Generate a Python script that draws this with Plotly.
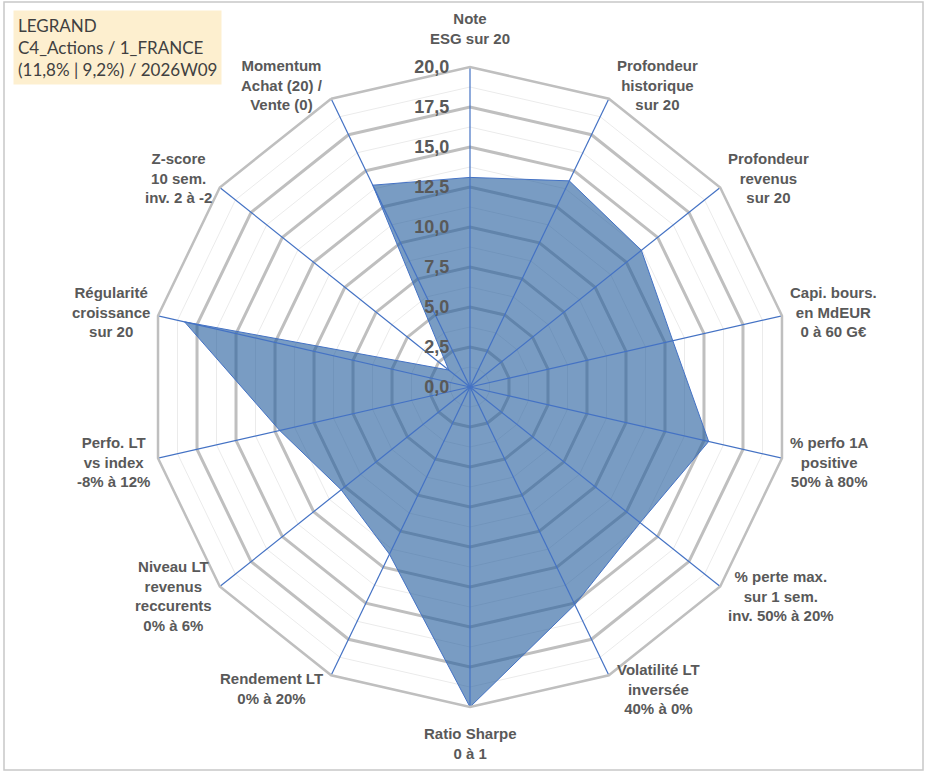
import math
import plotly.graph_objects as go

# axes of the radar, clockwise from the top
categories = [
    'Note<br>ESG sur 20',
    'Profondeur<br>historique<br>sur 20',
    'Profondeur<br>revenus<br>sur 20',
    'Capi. bours.<br>en MdEUR<br>0 à 60 G€',
    '% perfo 1A<br>positive<br>50% à 80%',
    '% perte max.<br>sur 1 sem.<br>inv. 50% à 20%',
    'Volatilité LT<br>inversée<br>40% à 0%',
    'Ratio Sharpe<br>0 à 1',
    'Rendement LT<br>0% à 20%',
    'Niveau LT<br>revenus<br>reccurents<br>0% à 6%',
    'Perfo. LT<br>vs index<br>-8% à 12%',
    'Régularité<br>croissance<br>sur 20',
    'Z-score<br>10 sem.<br>inv. 2 à -2',
    'Momentum<br>Achat (20) /<br>Vente (0)',
]
scores = [13.1, 14.3, 13.7, 13.0, 15.3, 13.6, 15.1, 20.0, 11.6, 10.3, 12.2, 18.3, 1.7, 14.0]

major_ticks = [0, 2.5, 5, 7.5, 10, 12.5, 15, 17.5, 20]
minor_rings = [1.25, 3.75, 6.25, 8.75, 11.25, 13.75, 16.25, 18.75]
r_max = 20

title_lines = ['LEGRAND', 'C4_Actions / 1_FRANCE', '(11,8% | 9,2%) / 2026W09']

W, H = 933, 776
cx, cy, R = 470, 387, 320  # radar centre and outer radius, px

label_font = dict(family='Liberation Sans, Arial', size=15, color='#595959', weight='bold')

fig = go.Figure()

# faint intermediate rings
for ring in minor_rings:
    fig.add_trace(go.Scatterpolar(r=[ring] * (len(categories) + 1), theta=categories + categories[:1],
                                  mode='lines', line=dict(color='#EBEBEB', width=1),
                                  hoverinfo='skip', showlegend=False))

fig.add_trace(go.Scatterpolar(r=scores + scores[:1], theta=categories + categories[:1],
                              mode='lines', fill='toself', fillcolor='rgba(38,96,158,0.62)',
                              line=dict(color='#4472C4', width=1), name='LEGRAND', showlegend=False))

# spokes drawn above the filled area
for cat in categories:
    fig.add_trace(go.Scatterpolar(r=[0, r_max], theta=[cat, cat], mode='lines',
                                  line=dict(color='#4472C4', width=1.2),
                                  hoverinfo='skip', showlegend=False))

fig.update_layout(
    width=W, height=H,
    margin=dict(l=0, r=0, t=0, b=0),
    paper_bgcolor='white', plot_bgcolor='white',
    separators=', ',
    polar=dict(
        domain=dict(x=[(cx - R) / W, (cx + R) / W], y=[1 - (cy + R) / H, 1 - (cy - R) / H]),
        bgcolor='white',
        gridshape='linear',
        angularaxis=dict(direction='clockwise', rotation=90, type='category',
                         categoryarray=categories, showgrid=False, showticklabels=False,
                         showline=True, linecolor='#BFBFBF', linewidth=2.5, ticks=''),
        radialaxis=dict(range=[0, r_max], tickvals=major_ticks, tickformat='.1f',
                        angle=90, tickangle=90, side='counterclockwise', showline=False,
                        gridcolor='#BFBFBF', gridwidth=2.5,
                        ticks='outside', ticklen=14, tickcolor='rgba(0,0,0,0)',
                        layer='above traces',
                        tickfont=dict(family='Liberation Sans, Arial', size=18, color='#595959',
                                      weight='bold')),
    ),
    font=dict(family='Liberation Sans, Arial'),
)

# axis labels around the outer ring
n = len(categories)
for i, label in enumerate(categories):
    a = math.radians(360 * i / n)
    s, c = math.sin(a), math.cos(a)
    vx, vy = cx + R * s, cy - R * c
    if abs(s) < 0.1:
        x, xanchor = vx, 'center'
        y, yanchor = (vy - 18, 'bottom') if c > 0 else (vy + 16, 'top')
    else:
        x, xanchor = (vx + 6, 'left') if s > 0 else (vx - 6, 'right')
        y, yanchor = vy - 15 * c, 'middle'
    fig.add_annotation(xref='paper', yref='paper', x=x / W, y=1 - y / H, xanchor=xanchor, yanchor=yanchor,
                       text=label, showarrow=False, align='center', font=label_font)

fig.add_annotation(xref='paper', yref='paper', x=13 / W, y=1 - 10 / H, xanchor='left', yanchor='top',
                   text='<br>'.join(title_lines), showarrow=False, align='left',
                   bgcolor='#FDEFCF', borderpad=4,
                   font=dict(family='Lato, Open Sans', size=17, color='#404040'))

fig.add_shape(type='rect', xref='paper', yref='paper', x0=4 / W, x1=923 / W, y0=1 - 770 / H, y1=1 - 2 / H,
              line=dict(color='#C8C8C8', width=1.5))

fig.write_html('out.html', config={'displayModeBar': False},
               post_script="document.body.style.margin='0';")
